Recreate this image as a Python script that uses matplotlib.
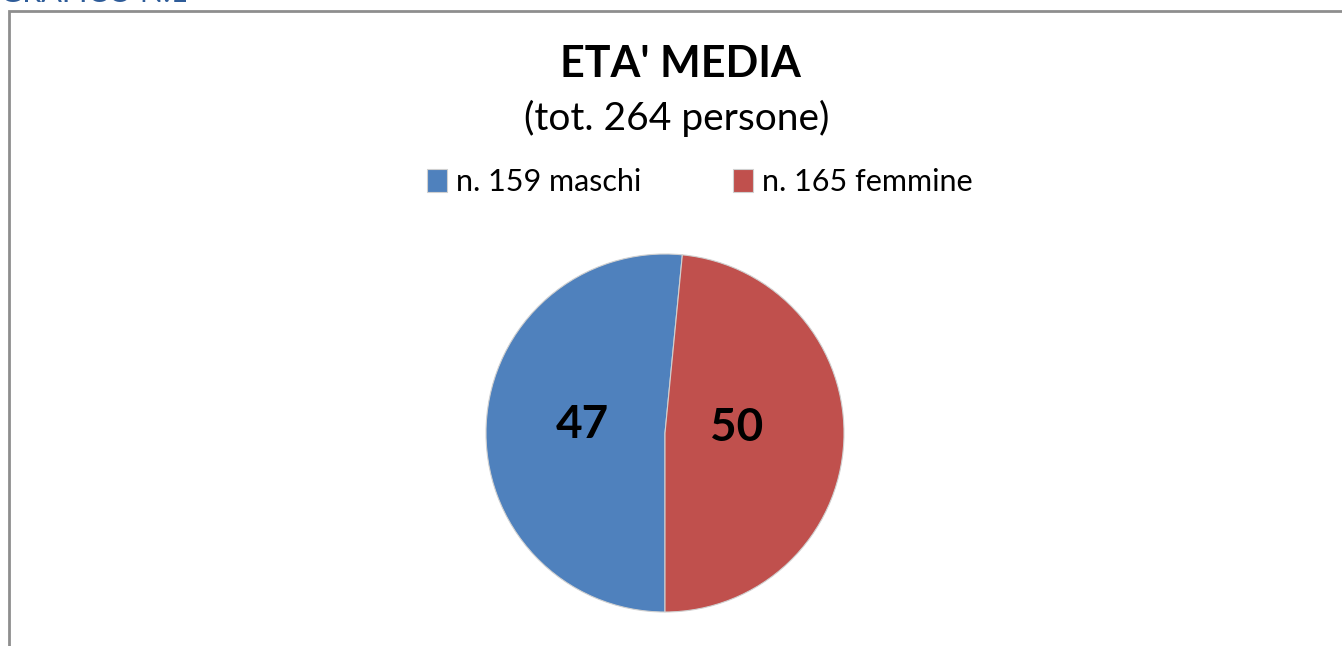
import matplotlib
matplotlib.use("Agg")
import matplotlib.pyplot as plt
from matplotlib.patches import Rectangle

# Data
categories = ["n. 159 maschi", "n. 165 femmine"]
slice_values = [50, 47]          # wedge shares as drawn in the reference
slice_labels = ["47", "50"]      # average age printed on each wedge
colors = ["#4F81BD", "#C0504D"]
title = "ETA' MEDIA"
subtitle = "(tot. 264 persone)"

plt.rcParams['font.family'] = ['Lato', 'DejaVu Sans']

W, H = 1342, 646
fig = plt.figure(figsize=(W / 100, H / 100), dpi=100)
fig.patch.set_facecolor("white")

# cut-off heading at the very top
fig.text(0.0, 1 - 2.5 / H, "GRAFICO N.1", color="#2E5C99", fontsize=22,
         ha="left", va="baseline")

# chart frame (extends beyond right/bottom)
fig.patches.append(Rectangle((9 / W, -0.1), 1.2, 1 - 11 / H + 0.1,
                             transform=fig.transFigure, fill=False,
                             edgecolor="#8E8E8E", linewidth=2))

# titles
fig.text(680 / W, 1 - 64 / H, title, fontsize=31, fontweight="bold",
         ha="center", va="center", color="black")
fig.text(677 / W, 1 - 118 / H, subtitle, fontsize=28,
         ha="center", va="center", color="black")

# pie
cx, cy, r = 665, 433, 179
ax = fig.add_axes([(cx - r) / W, 1 - (cy + r) / H, 2 * r / W, 2 * r / H])
wedges, texts = ax.pie(slice_values, colors=colors,
                       startangle=270 - 360 * slice_values[0] / sum(slice_values),
                       counterclock=True, labels=slice_labels, labeldistance=0.46,
                       wedgeprops=dict(linewidth=0.8, edgecolor="#d0d0d0"),
                       textprops=dict(fontsize=33, fontweight="bold", color="black"))
label_nudges = [(0.0, 0.022), (-0.06, 0.05)]
for t, (ddx, ddy) in zip(texts, label_nudges):
    x, y = t.get_position()
    t.set_position((x + ddx, y + ddy))
    t.set_ha("center")
ax.set_xlim(-1, 1)
ax.set_ylim(-1, 1)
ax.set_aspect("equal")

# legend
leg = fig.legend(wedges, categories, loc="center", bbox_to_anchor=(700 / W, 1 - 182 / H),
                 ncol=2, frameon=False, fontsize=22, handlelength=0.65, handleheight=0.8,
                 handletextpad=0.3, columnspacing=3.0)

fig.savefig("out.png", dpi=100, facecolor="white")
